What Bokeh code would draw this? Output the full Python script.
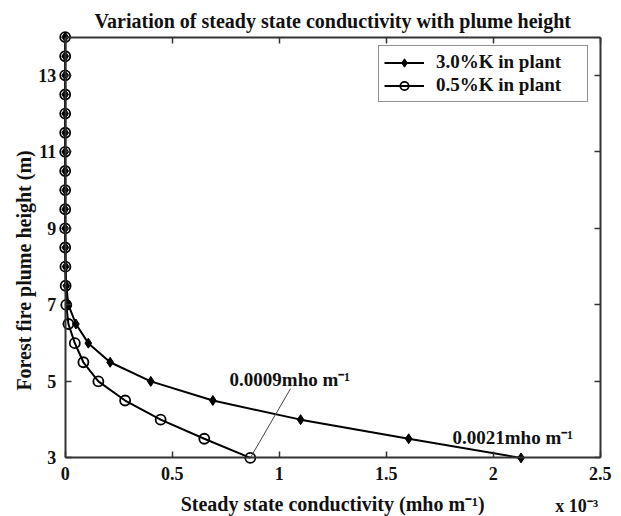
from bokeh.plotting import figure
from bokeh.models import Range1d, LinearAxis, FixedTicker, Label
from bokeh.embed import file_html
from bokeh.resources import INLINE
import math

# ---- data (x in units of 1e-3 mho m^-1) ----
heights = [3, 3.5, 4, 4.5, 5, 5.5, 6, 6.5, 7, 7.5, 8, 8.5, 9, 9.5, 10, 10.5,
           11, 11.5, 12, 12.5, 13, 13.5, 14]
k30 = [2.13, 1.605, 1.10, 0.69, 0.40, 0.21, 0.108, 0.05, 0.015, 0.005, 0.002,
       0.001, 0, 0, 0, 0, 0, 0, 0, 0, 0, 0, 0]
k05 = [0.865, 0.65, 0.446, 0.28, 0.155, 0.085, 0.045, 0.015, 0.005, 0.002,
       0.001, 0, 0, 0, 0, 0, 0, 0, 0, 0, 0, 0, 0]
series_names = ["3.0%K in plant", "0.5%K in plant"]

x_ticks = [0, 0.5, 1, 1.5, 2, 2.5]
x_tick_labels = ["0", "0.5", "1", "1.5", "2", "2.5"]
y_ticks = [3, 5, 7, 9, 11, 13]

title_text = "Variation of steady state conductivity with plume height"
x_label = "Steady state conductivity (mho m\u207b\u00b9)"
y_label = "Forest fire plume height (m)"
x_scale_note = "x 10\u207b\u00b3"
note_low = "0.0009mho m\u207b\u00b9"
note_high = "0.0021mho m\u207b\u00b9"

FONT = "Liberation Serif"
TXT = "#111111"

# the frame covers the whole canvas; axes are pinned at the data box edges
p = figure(width=621, height=516,
           x_range=Range1d(-0.3023, 2.5995), y_range=Range1d(1.468, 14.957),
           x_axis_type=None, y_axis_type=None,
           output_backend="svg", toolbar_location=None,
           min_border=0, min_border_left=0, min_border_right=0,
           min_border_top=0, min_border_bottom=0)
p.title.visible = False
p.outline_line_color = None
p.background_fill_color = "white"
p.border_fill_color = "white"


def style_axis(ax, show_labels=True):
    ax.axis_line_color = "#333333"
    ax.axis_line_width = 2
    ax.major_tick_line_color = "#333333"
    ax.major_tick_line_width = 1.5
    ax.major_tick_in = 6
    ax.major_tick_out = 0
    ax.minor_tick_line_color = None
    ax.major_label_text_font = FONT
    ax.major_label_text_font_style = "bold"
    ax.major_label_text_font_size = "18px"
    ax.major_label_text_color = TXT if show_labels else None
    ax.major_label_standoff = 9


xb = LinearAxis(ticker=FixedTicker(ticks=x_ticks),
                major_label_overrides={t: s for t, s in zip(x_ticks, x_tick_labels)},
                fixed_location=3, bounds=(0, 2.5))
style_axis(xb)
p.add_layout(xb, "below")

yl = LinearAxis(ticker=FixedTicker(ticks=y_ticks), fixed_location=0, bounds=(3, 14))
style_axis(yl)
p.add_layout(yl, "left")

xt = LinearAxis(ticker=FixedTicker(ticks=x_ticks), fixed_location=14, bounds=(0, 2.5))
style_axis(xt, False)
p.add_layout(xt, "above")

yr = LinearAxis(ticker=FixedTicker(ticks=y_ticks), fixed_location=2.5, bounds=(3, 14))
style_axis(yr, False)
p.add_layout(yr, "right")

# series
p.line(k30, heights, line_color="black", line_width=2, legend_label=series_names[0])
p.scatter(k30, heights, marker="diamond", size=10, fill_color="black",
          line_color="black", legend_label=series_names[0])
p.line(k05, heights, line_color="black", line_width=2, legend_label=series_names[1])
p.scatter(k05, heights, marker="circle", size=10, fill_color=None,
          line_color="black", line_width=1.8, legend_label=series_names[1])

# leader line for the 0.5% end value
p.segment(x0=[k05[0]], y0=[heights[0]], x1=[1.053], y1=[4.81],
          line_color="#444444", line_width=1)

lg = p.legend[0]
lg.location = (378, 414)
lg.border_line_color = "#222222"
lg.border_line_width = 1.5
lg.background_fill_alpha = 1
lg.label_text_font = FONT
lg.label_text_font_style = "bold"
lg.label_text_font_size = "19px"
lg.label_text_color = TXT
lg.glyph_width = 40
lg.glyph_height = 21
lg.label_height = 21
lg.label_width = 146
lg.label_standoff = 12
lg.spacing = 1
lg.padding = 5
lg.margin = 0


def add_label(text, x, y, size, align="left", baseline="middle", xo=0, yo=0, angle=0):
    p.add_layout(Label(x=x, y=y, x_offset=xo, y_offset=yo, text=text,
                       text_font=FONT, text_font_style="bold",
                       text_font_size=size, text_color=TXT,
                       text_align=align, text_baseline=baseline, angle=angle))


add_label(title_text, 1.25, 14, "20px", align="center", yo=16.6)
add_label(x_label, 1.25, 3, "20px", align="center", yo=-46)
add_label(x_scale_note, 2.39, 3, "18px", align="center", yo=-48)
add_label(y_label, 0, 7.9, "20px", align="center", xo=-41, angle=math.pi / 2)
add_label(note_low, 0.768, 5.06, "19px")
add_label(note_high, 1.81, 3.546, "19px")

open("out.html", "w").write(file_html(p, INLINE))
